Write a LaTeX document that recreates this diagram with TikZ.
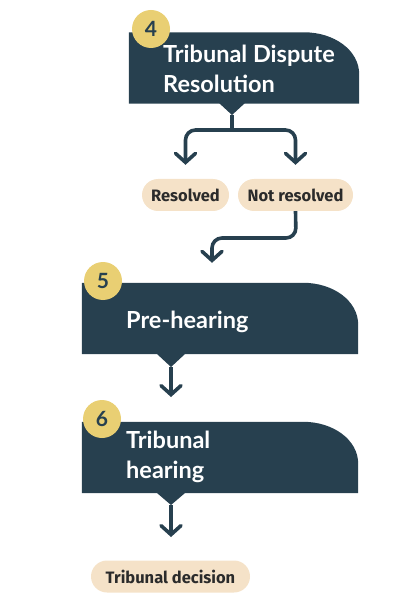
\documentclass[tikz,border=0pt]{standalone}
\usepackage{fontspec}
\setmainfont{Lato}
\newfontfamily\pillfont{Fira Sans}
\usetikzlibrary{arrows.meta,calc}
\definecolor{boxc}{HTML}{27404F}
\definecolor{numc}{HTML}{E9CF73}
\definecolor{pillc}{HTML}{F5E2C8}
\definecolor{pilltext}{HTML}{2B2B2B}
\tikzset{
  boxtext/.style={text=white,font=\fontsize{23.5}{30}\selectfont\bfseries,align=left,anchor=west,inner sep=0pt},
  numcircle/.style={circle,fill=numc,minimum size=38pt,inner sep=0pt,text=boxc,font=\fontsize{21}{24}\selectfont\bfseries},
  pill/.style={rounded corners=16pt,fill=pillc,text=pilltext,minimum height=32pt,inner xsep=6pt,font=\pillfont\fontsize{16.5}{18}\selectfont\bfseries},
  conn/.style={draw=boxc,line width=3.6pt,rounded corners=10pt,-{Straight Barb[length=9pt,width=20pt,line width=3.6pt,line cap=round]}},
  stem/.style={draw=boxc,line width=3.6pt},
  frame/.style={inner sep=0pt,minimum width=#1,minimum height=71pt},
}
\begin{document}
\begin{tikzpicture}[x=1pt,y=-1pt]
\useasboundingbox (0,0) rectangle (400,601);
% box 4
\node[frame=230pt] (b4) at (244,68) {};
\fill[boxc] (b4.south west) -- (b4.north west) -- ($(b4.north east)+(-55,0)$) .. controls ($(b4.north east)+(-25,0)$) and ($(b4.north east)+(0,18)$) .. ($(b4.north east)+(0,42)$) -- (b4.south east) -- cycle;
\coordinate (t4) at (232,115);
\fill[boxc] (219,103) -- (245,103) -- (t4) -- cycle;
\node[numcircle] (n4) at (151,29) {4};
\node[boxtext] (l4) at (163,69) {Tribunal Dispute\\Resolution};
% pills
\node[pill,minimum width=87pt] (res) at (185.5,195) {Resolved};
\node[pill,minimum width=115pt] (nres) at (295.5,195) {Not resolved};
\coordinate (j4) at (232,130);
\draw[stem] (t4) -- (j4);
\draw[conn] (j4) -| ($(res.north)+(0,-14)$);
\draw[conn] (j4) -| ($(nres.north)+(0,-14)$);
% box 5
\node[frame=276pt] (b5) at (220,318.5) {};
\fill[boxc] (b5.south west) -- (b5.north west) -- ($(b5.north east)+(-55,0)$) .. controls ($(b5.north east)+(-25,0)$) and ($(b5.north east)+(0,18)$) .. ($(b5.north east)+(0,42)$) -- (b5.south east) -- cycle;
\draw[conn] (nres.south) -- (296,238) -| ($(b5.north)+(-8,-20)$);
\coordinate (t5) at (171,367);
\fill[boxc] (157,354) -- (185,354) -- (t5) -- cycle;
\node[numcircle] (n5) at (103,281) {5};
\node[boxtext] (l5) at (126,322) {Pre-hearing};
% box 6
\node[frame=276pt] (b6) at (220,457.5) {};
\fill[boxc] (b6.south west) -- (b6.north west) -- ($(b6.north east)+(-55,0)$) .. controls ($(b6.north east)+(-25,0)$) and ($(b6.north east)+(0,18)$) .. ($(b6.north east)+(0,42)$) -- (b6.south east) -- cycle;
\draw[conn] (t5) -- ($(t5)+(0,30)$);
\coordinate (t6) at (171,505);
\fill[boxc] (157,493) -- (185,493) -- (t6) -- cycle;
\node[numcircle] (n6) at (102,419) {6};
\node[boxtext] (l6) at (126,457) {Tribunal\\hearing};
% decision
\node[pill,minimum width=159pt] (dec) at (170.5,576.5) {Tribunal decision};
\draw[conn] (t6) -- ($(t6)+(0,32)$);
\end{tikzpicture}
\end{document}
